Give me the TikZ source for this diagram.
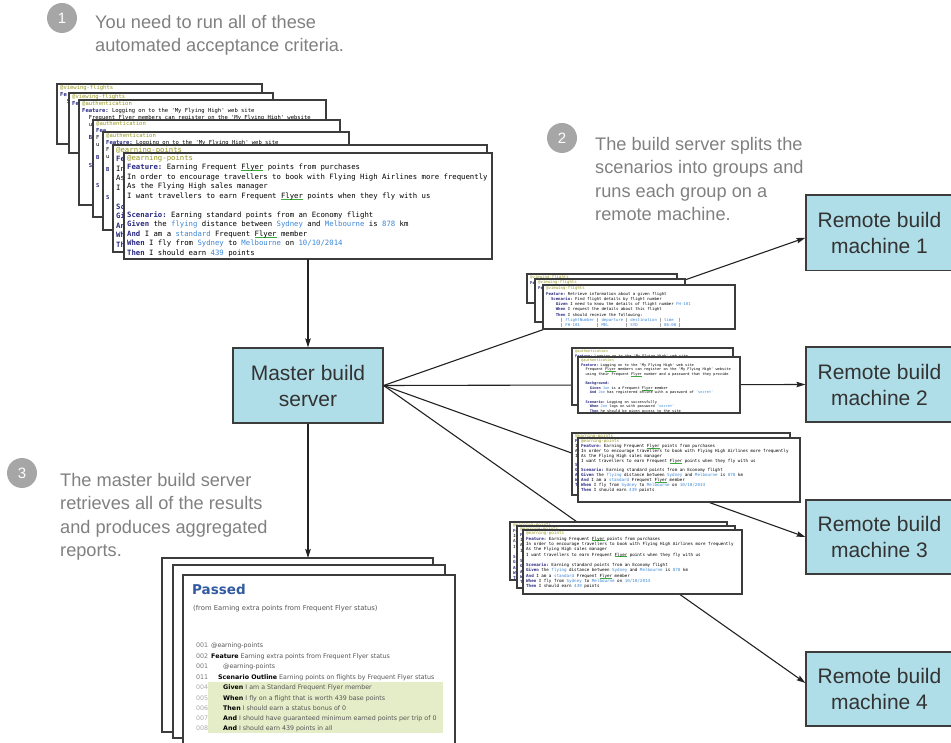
\documentclass[tikz,border=0pt]{standalone}
\usepackage{fontspec}
\setmainfont{Liberation Sans}
\setmonofont{DejaVu Sans Mono}
\newfontfamily\repf{DejaVu Sans}
\usetikzlibrary{arrows.meta}
\definecolor{boxc}{RGB}{176,222,232}
\definecolor{boxline}{RGB}{60,60,60}
\definecolor{boxtxt}{RGB}{51,51,51}
\definecolor{callc}{RGB}{128,128,128}
\definecolor{circc}{RGB}{166,166,166}
\definecolor{tagc}{RGB}{150,150,30}
\definecolor{kwc}{RGB}{40,40,130}
\definecolor{valc}{RGB}{60,135,215}
\definecolor{splc}{RGB}{60,170,60}
\definecolor{linec}{RGB}{34,34,34}
\definecolor{passc}{RGB}{50,90,160}
\definecolor{hlc}{RGB}{228,236,200}
\definecolor{numc}{RGB}{120,120,120}
\definecolor{numl}{RGB}{170,170,170}
\definecolor{reptxt}{RGB}{85,85,85}
\newcommand\kw[1]{{\bfseries\color{kwc}#1}}
\newcommand\tg[1]{\textcolor{tagc}{#1}}
\newcommand\vl[1]{\textcolor{valc}{#1}}
\newcommand\spl[1]{\setbox0=\hbox{#1}\rlap{\color{splc}\rule[-0.28ex]{\wd0}{0.09em}}\box0\relax}
\newcommand\ind[1]{\hspace*{#1em}}
\newcommand\emptyln{\mbox{}}
% page: x1 y1 x2 y2 fontstyle content
\newcommand\fpage[6]{%
  \begin{scope}
    \clip (#1,#2) rectangle (#3,#4);
    \fill[white] (#1,#2) rectangle (#3,#4);
    \node[anchor=north west,inner sep=0pt,align=left,#5] at ({#1+3},{#2+1.5}) {#6};
  \end{scope}
  \draw[pgb] (#1,#2) rectangle (#3,#4);}
% full texts (front pages)
\newcommand\viewtxt{%
\tg{@viewing-flights}\\
\kw{Feature:} Retrieve information about a given flight\\
\ind{1.2}\kw{Scenario:} Find flight details by flight number\\
\ind{2.4}\kw{Given} I need to know the details of flight number \vl{FH-101}\\
\ind{2.4}\kw{When} I request the details about this flight\\
\ind{2.4}\kw{Then} I should receive the following:\\
\ind{3.6}| \vl{flightNumber} | \vl{departure} | \vl{destination} | \vl{time}~~|\\
\ind{3.6}| \vl{FH-101}~~~~~~~| \vl{MEL}~~~~~~~| \vl{SYD}~~~~~~~~~| \vl{06:00} |}
\newcommand\authtxt{%
\tg{@authentication}\\
\kw{Feature:} Logging on to the 'My Flying High' web site\\
\ind{1.2}Frequent \spl{Flyer} members can register on the 'My Flying High' website\\
\ind{1.2}using their Frequent \spl{Flyer} number and a password that they provide\\
\emptyln\\
\ind{1.2}\kw{Background:}\\
\ind{2.4}\kw{Given} \vl{Joe} is a Frequent \spl{Flyer} member\\
\ind{2.4}\kw{And} \vl{Joe} has registered online with a password of \vl{'secret'}\\
\emptyln\\
\ind{1.2}\kw{Scenario:} Logging on successfully\\
\ind{2.4}\kw{When} \vl{Joe} logs on with password \vl{'secret'}\\
\ind{2.4}\kw{Then} he should be given access to the site}
\newcommand\earntxt{%
\tg{@earning-points}\\
\kw{Feature:} Earning Frequent \spl{Flyer} points from purchases\\
In order to encourage travellers to book with Flying High Airlines more frequently\\
As the Flying High sales manager\\
I want travellers to earn Frequent \spl{Flyer} points when they fly with us\\
\emptyln\\
\kw{Scenario:} Earning standard points from an Economy flight\\
\kw{Given} the \vl{flying} distance between \vl{Sydney} and \vl{Melbourne} is \vl{878} km\\
\kw{And} I am a \vl{standard} Frequent \spl{Flyer} member\\
\kw{When} I fly from \vl{Sydney} to \vl{Melbourne} on \vl{10/10/2014}\\
\kw{Then} I should earn \vl{439} points}
% partly hidden pages: only the visible parts
\newcommand\viewback{%
\tg{@viewing-flights}\\
\kw{Fe}\\
\ind{1.2}\kw{S}\\
\ind{2.4}\\
\ind{2.4}\\
\ind{2.4}\\
\ind{3.6}|\\
\ind{3.6}|}
\newcommand\authbackA{%
\tg{@authentication}\\
\kw{Feature:} Logging on to the 'My Flying High' web site\\
\ind{1.2}Frequent \spl{Flyer} members can register on the 'My Flying High' website\\
\ind{1.2}us\\
\emptyln\\
\ind{1.2}\kw{Ba}\\
\emptyln\\
\emptyln\\
\emptyln\\
\ind{1.2}\kw{Sc}}
\newcommand\authbackB{%
\tg{@authentication}\\
\kw{Feature:} Logging on to the 'My Flying High' web site\\
\ind{1.2}Fr\\
\ind{1.2}us\\
\emptyln\\
\ind{1.2}\kw{Ba}\\
\ind{2.4}\kw{G}\\
\ind{2.4}\kw{A}\\
\emptyln\\
\ind{1.2}\kw{Sc}\\
\ind{2.4}\kw{W}\\
\ind{2.4}\kw{T}}
\newcommand\authbackC[1]{%
\tg{@authentication}\\
#1\\
F\\
u\\
\emptyln\\
\kw{B}\\
\emptyln\\
\emptyln\\
\emptyln\\
\kw{S}}
\newcommand\earnback{%
\tg{@earning-points}\\
\kw{Fe}\\
In\\
As\\
I\\
\emptyln\\
\kw{Sc}\\
\kw{Gi}\\
\kw{An}\\
\kw{Wh}\\
\kw{Th}}
\newcommand\repline[4]{%
  \node[rnum,anchor=base west] (rn#1) at (196,#1) {#2};
  \node[rtxt,anchor=base west] (rt#1) at (#3,#1) {#4};}
\begin{document}
\begin{tikzpicture}[x=1pt,y=-1pt,
  pgb/.style={draw=boxline,line width=1.3pt},
  fbig/.style={font=\fontsize{7.3}{9.5}\selectfont\ttfamily},
  fsmall/.style={font=\fontsize{5.5}{6.8}\selectfont\ttfamily},
  fsone/.style={font=\fontsize{4.0}{5.3}\selectfont\ttfamily},
  fstwo/.style={font=\fontsize{3.6}{4.65}\selectfont\ttfamily},
  fsthree/.style={font=\fontsize{4.2}{4.85}\selectfont\ttfamily},
  fsfour/.style={font=\fontsize{4.2}{5.3}\selectfont\ttfamily},
  bluebox/.style={draw=boxline,line width=1.2pt,fill=boxc,text=boxtxt,align=center,
    font=\fontsize{21}{26}\selectfont,inner sep=0pt},
  conn/.style={draw=linec,line width=1.1pt,-{Stealth[length=9pt,width=5.5pt,inset=1.5pt]}},
  circ/.style={circle,fill=circc,text=white,minimum size=30pt,inner sep=0pt,
    font=\fontsize{15}{15}\selectfont},
  calltxt/.style={text=callc,font=\fontsize{18.2}{23}\selectfont,inner sep=0pt,anchor=base west},
  rnum/.style={text=numc,font=\repf\fontsize{6.3}{7}\selectfont,inner sep=0pt},
  rtxt/.style={text=reptxt,font=\repf\fontsize{6.3}{7}\selectfont,inner sep=0pt}
]
\useasboundingbox (0,0) rectangle (951,743);

% ---- callouts ----
\node[circ] (c1) at (62,18) {1};
\node[calltxt] (t1a) at (95,29) {You need to run all of these};
\node[calltxt] (t1b) at (95,52) {automated acceptance criteria.};

\node[circ] (c2) at (562,138) {2};
\node[calltxt] (t2a) at (595,151) {The build server splits the};
\node[calltxt] (t2b) at (595,174) {scenarios into groups and};
\node[calltxt] (t2c) at (595,198) {runs each group on a};
\node[calltxt] (t2d) at (595,221) {remote machine.};

\node[circ] (c3) at (22,473) {3};
\node[calltxt] (t3a) at (60,486) {The master build server};
\node[calltxt] (t3b) at (60,509) {retrieves all of the results};
\node[calltxt] (t3c) at (60,533) {and produces aggregated};
\node[calltxt] (t3d) at (60,556) {reports.};

% ---- boxes ----
\node[bluebox,minimum width=150pt,minimum height=75pt] (master) at (308,385.5) {Master build\\server};
\node[bluebox,minimum width=147pt,minimum height=75.5pt] (r1) at (879.5,232.75) {Remote build\\machine 1};
\node[bluebox,minimum width=147pt,minimum height=75pt] (r2) at (879.5,384.5) {Remote build\\machine 2};
\node[bluebox,minimum width=147pt,minimum height=74pt] (r3) at (879.5,537) {Remote build\\machine 3};
\node[bluebox,minimum width=147pt,minimum height=74pt] (r4) at (879.5,689) {Remote build\\machine 4};

% ---- fan-out connectors (behind the small stacks) ----
\draw[conn] (master.east) -- ([yshift=-5pt]r1.west);
\draw[conn] (master.east) -- (r2.west);
\draw[conn] (master.east) -- (r3.west);
\draw[conn] (master.east) -- ([yshift=6pt]r4.west);

% ---- small stacks ----
\fpage{527}{274}{677}{303}{fsone}{\viewback}
\fpage{535}{279}{685}{322}{fsone}{\viewback}
\fpage{543}{285}{735}{329}{fsone}{\viewtxt}

\fpage{572}{348}{733}{405}{fstwo}{\authbackB}
\fpage{578}{357}{740}{413}{fstwo}{\authtxt}

\fpage{572}{433}{790}{495}{fsthree}{\earnback}
\fpage{578}{438}{800}{502}{fsthree}{\earntxt}

\fpage{510}{522}{727}{580}{fsfour}{\earnback}
\fpage{517}{526}{735}{588}{fsfour}{\earnback}
\fpage{523}{530}{742}{594}{fsfour}{\earntxt}

% ---- top-left stack ----
\fpage{57}{84}{262}{144}{fsmall}{\viewback}
\fpage{69}{93}{273}{153}{fsmall}{\viewback}
\fpage{79}{100}{326}{205}{fsmall}{\authbackA}
\fpage{93}{120}{340}{217}{fsmall}{\authbackC{\kw{Fea}}}
\fpage{103}{132}{349}{230}{fsmall}{\authbackC{\kw{Feature:} Logging on to the 'My Flying High' web site}}
\fpage{113}{145}{487}{252}{fbig}{\earnback}
\fpage{124}{153}{492}{259}{fbig}{\earntxt}

\coordinate (tsb) at (308,259);
\draw[conn] (tsb) -- (master.north);

% ---- report stack ----
\coordinate (rpt) at (308,558);
\draw[conn] (master.south) -- (rpt);
\fill[white] (162,558) rectangle (433,732);
\draw[pgb] (162,558) rectangle (433,732);
\fill[white] (173,565) rectangle (445,738);
\draw[pgb] (173,565) rectangle (445,738);
\fill[white] (183,575) rectangle (455,780);
\draw[pgb] (183,575) rectangle (455,780);

\fill[hlc] (208,682) rectangle (443,733);
\node[text=passc,font=\repf\bfseries\fontsize{13.5}{15}\selectfont,inner sep=0pt,anchor=base west] (passed) at (192,594) {Passed};
\node[text=reptxt,font=\repf\fontsize{6.8}{8}\selectfont,inner sep=0pt,anchor=base west] (from) at (193,610.5) {(from Earning extra points from Frequent Flyer status)};
\repline{647}{001}{211}{@earning-points}
\repline{658}{002}{211}{{\color{black}\bfseries Feature} Earning extra points from Frequent Flyer status}
\repline{668}{001}{223}{@earning-points}
\repline{679}{011}{218}{{\color{black}\bfseries Scenario Outline} Earning points on flights by Frequent Flyer status}
\repline{689}{\textcolor{numl}{004}}{223}{{\color{black}\bfseries Given} I am a Standard Frequent Flyer member}
\repline{700}{\textcolor{numl}{005}}{223}{{\color{black}\bfseries When} I fly on a flight that is worth 439 base points}
\repline{710}{\textcolor{numl}{006}}{223}{{\color{black}\bfseries Then} I should earn a status bonus of 0}
\repline{720}{\textcolor{numl}{007}}{223}{{\color{black}\bfseries And} I should have guaranteed minimum earned points per trip of 0}
\repline{730}{\textcolor{numl}{008}}{223}{{\color{black}\bfseries And} I should earn 439 points in all}
\end{tikzpicture}
\end{document}
